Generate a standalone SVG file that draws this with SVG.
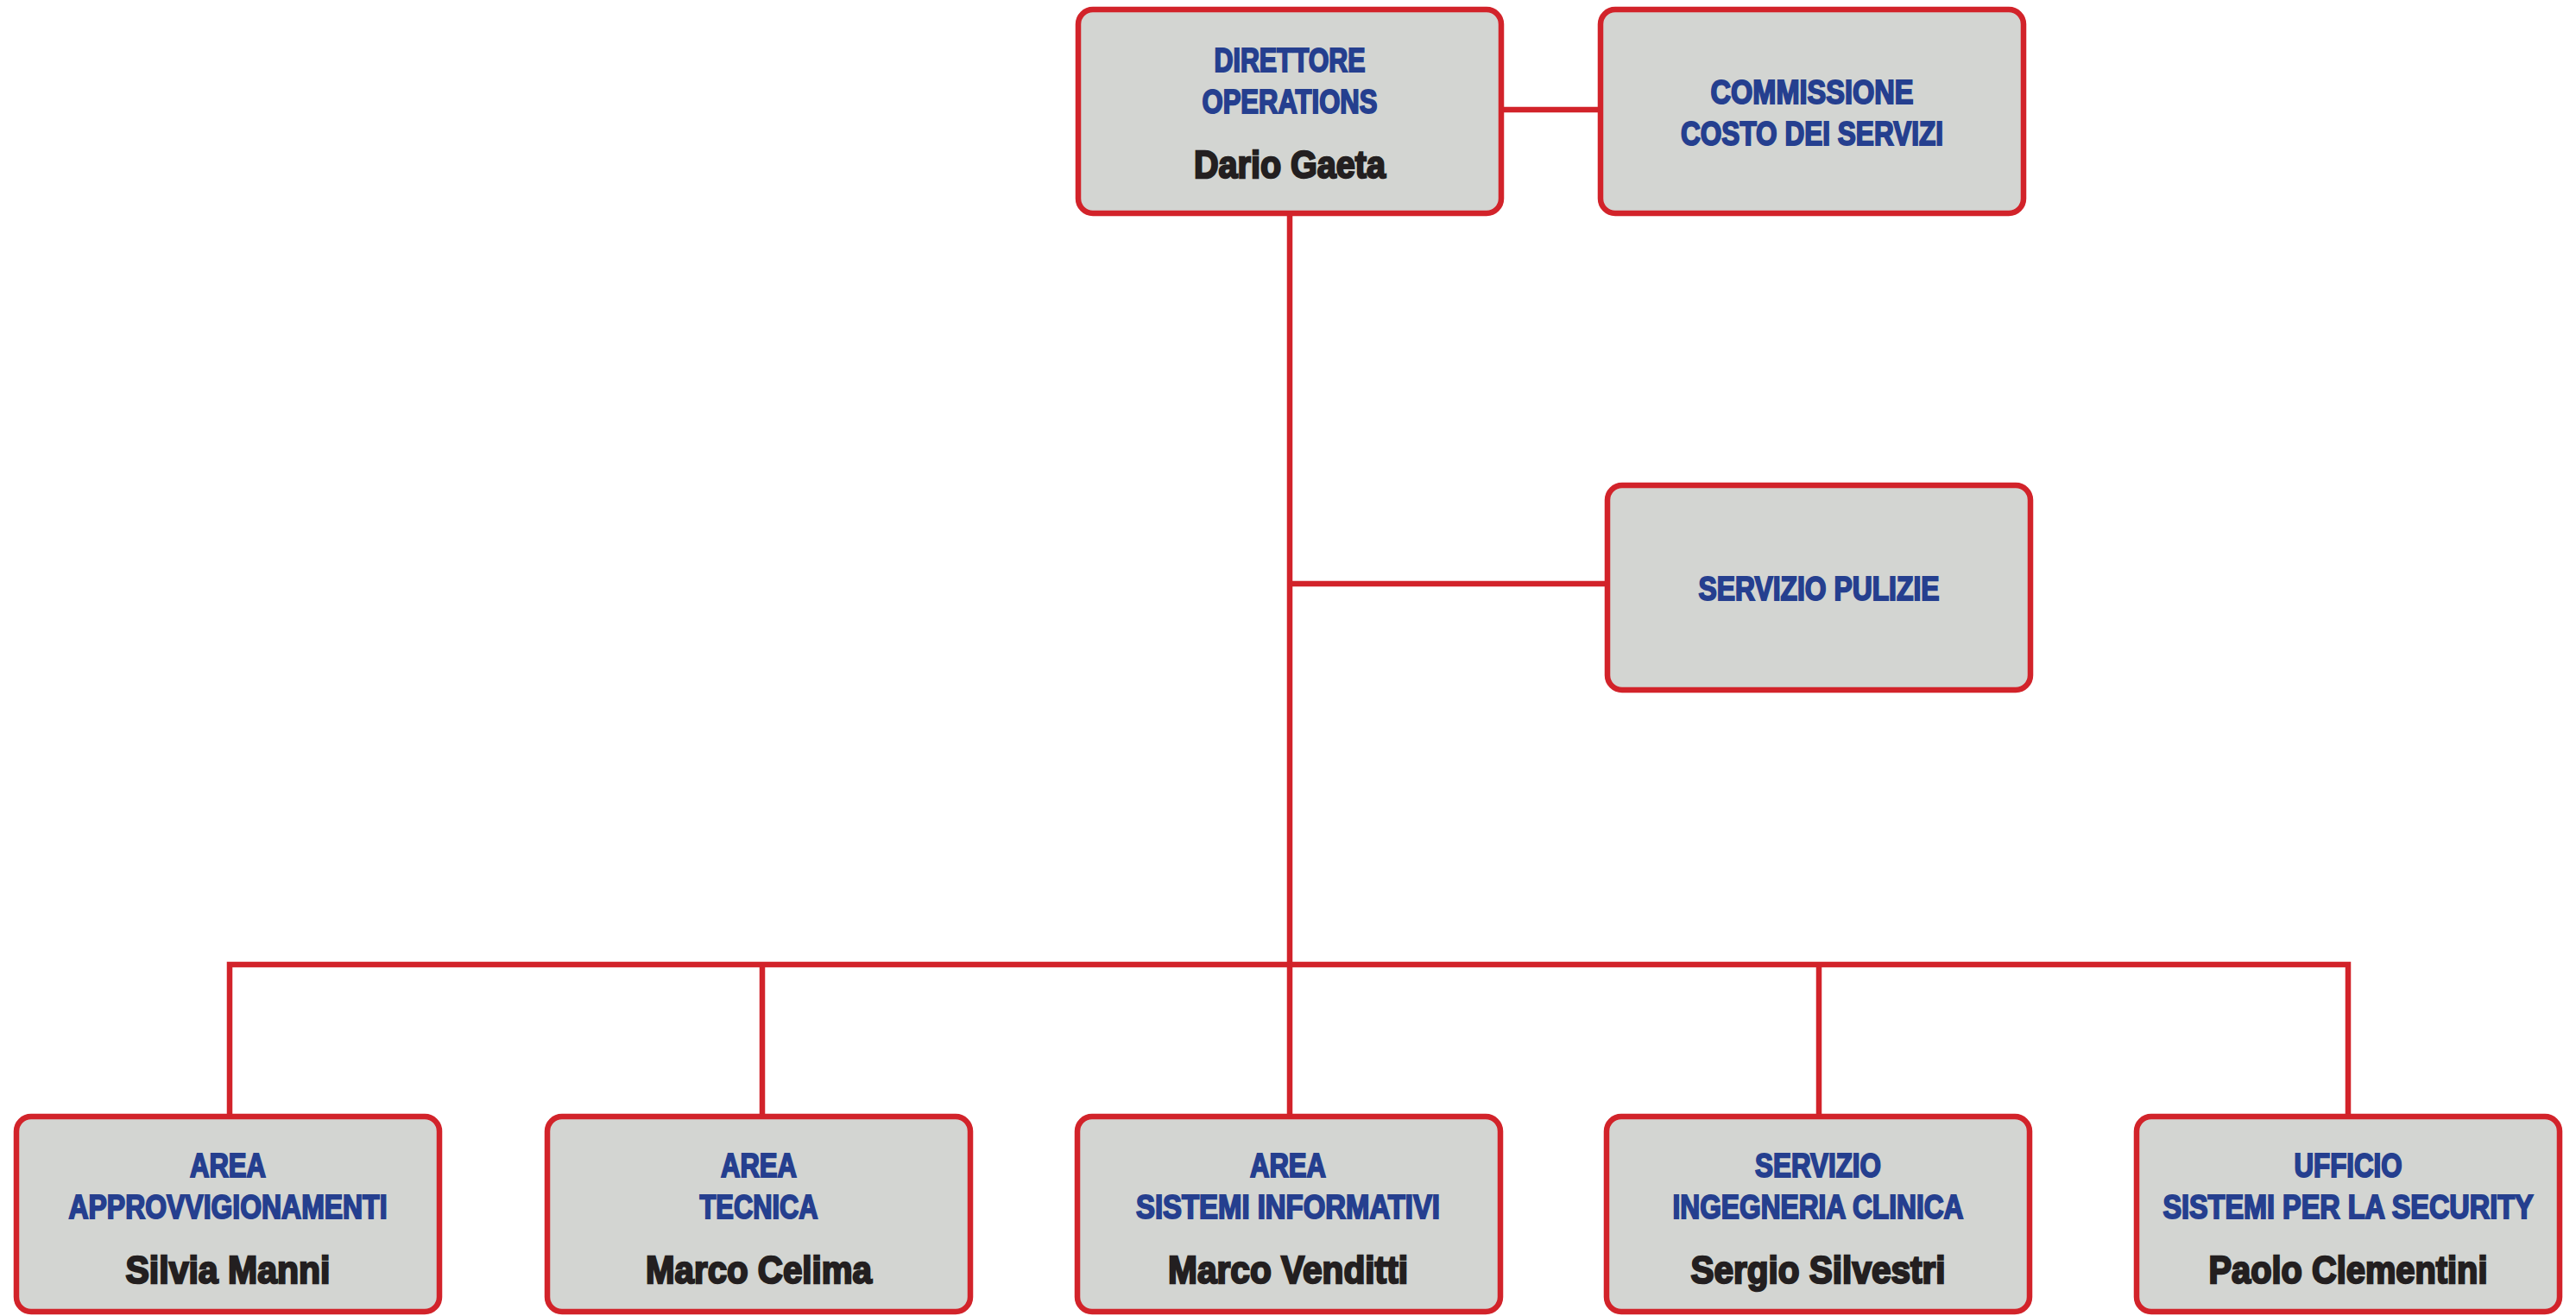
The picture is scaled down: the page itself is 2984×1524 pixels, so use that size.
<svg xmlns="http://www.w3.org/2000/svg" width="2984" height="1524" viewBox="0 0 2984 1524">
<style>
.box{fill:#d3d5d2;stroke:#d2232a;stroke-width:6.5}
.con{fill:none;stroke:#d2232a;stroke-width:6.5;stroke-linejoin:miter}
.t{font-family:"Liberation Sans",Arial,sans-serif;font-weight:bold;text-anchor:middle;fill:#253f8f;stroke:#253f8f;stroke-width:2;font-size:38px}
.n{font-family:"Liberation Sans",Arial,sans-serif;font-weight:bold;text-anchor:middle;fill:#231f20;stroke:#231f20;stroke-width:2.4;font-size:45px}
</style>
<rect width="2984" height="1524" fill="#ffffff"/>
<g id="connectors">
<path class="con" d="M1739,127 H1854"/>
<path class="con" d="M1494,247 V1293"/>
<path class="con" d="M1494,676 H1862"/>
<path class="con" d="M266,1293 V1117 H2720 V1293"/>
<path class="con" d="M883,1117 V1293"/>
<path class="con" d="M2107,1117 V1293"/>
</g>
<g id="direttore">
<rect class="box" x="1249" y="11" width="490" height="236" rx="17"/>
<text class="t" x="1494" y="83" textLength="175" lengthAdjust="spacingAndGlyphs">DIRETTORE</text>
<text class="t" x="1494" y="131" textLength="203" lengthAdjust="spacingAndGlyphs">OPERATIONS</text>
<text class="n" x="1494" y="206" textLength="222" lengthAdjust="spacingAndGlyphs">Dario Gaeta</text>
</g>
<g id="commissione">
<rect class="box" x="1854" y="11" width="490" height="236" rx="17"/>
<text class="t" x="2099" y="120" textLength="235" lengthAdjust="spacingAndGlyphs">COMMISSIONE</text>
<text class="t" x="2099" y="168" textLength="304" lengthAdjust="spacingAndGlyphs">COSTO DEI SERVIZI</text>
</g>
<g id="pulizie">
<rect class="box" x="1862" y="562" width="490" height="237" rx="17"/>
<text class="t" x="2107" y="695" textLength="279" lengthAdjust="spacingAndGlyphs">SERVIZIO PULIZIE</text>
</g>
<g id="approvvigionamenti">
<rect class="box" x="19" y="1293" width="490" height="226" rx="17"/>
<text class="t" x="264" y="1363" textLength="88" lengthAdjust="spacingAndGlyphs">AREA</text>
<text class="t" x="264" y="1411" textLength="369" lengthAdjust="spacingAndGlyphs">APPROVVIGIONAMENTI</text>
<text class="n" x="264" y="1486" textLength="237" lengthAdjust="spacingAndGlyphs">Silvia Manni</text>
</g>
<g id="tecnica">
<rect class="box" x="634" y="1293" width="490" height="226" rx="17"/>
<text class="t" x="879" y="1363" textLength="88" lengthAdjust="spacingAndGlyphs">AREA</text>
<text class="t" x="879" y="1411" textLength="137" lengthAdjust="spacingAndGlyphs">TECNICA</text>
<text class="n" x="879" y="1486" textLength="262" lengthAdjust="spacingAndGlyphs">Marco Celima</text>
</g>
<g id="sistemi-informativi">
<rect class="box" x="1248" y="1293" width="490" height="226" rx="17"/>
<text class="t" x="1492" y="1363" textLength="88" lengthAdjust="spacingAndGlyphs">AREA</text>
<text class="t" x="1492" y="1411" textLength="352" lengthAdjust="spacingAndGlyphs">SISTEMI INFORMATIVI</text>
<text class="n" x="1492" y="1486" textLength="278" lengthAdjust="spacingAndGlyphs">Marco Venditti</text>
</g>
<g id="ingegneria-clinica">
<rect class="box" x="1861" y="1293" width="490" height="226" rx="17"/>
<text class="t" x="2106" y="1363" textLength="146" lengthAdjust="spacingAndGlyphs">SERVIZIO</text>
<text class="t" x="2106" y="1411" textLength="337" lengthAdjust="spacingAndGlyphs">INGEGNERIA CLINICA</text>
<text class="n" x="2106" y="1486" textLength="295" lengthAdjust="spacingAndGlyphs">Sergio Silvestri</text>
</g>
<g id="security">
<rect class="box" x="2475" y="1293" width="490" height="226" rx="17"/>
<text class="t" x="2720" y="1363" textLength="125" lengthAdjust="spacingAndGlyphs">UFFICIO</text>
<text class="t" transform="translate(2720,1411) scale(0.85,1)" x="0" y="0" textLength="505" lengthAdjust="spacingAndGlyphs">SISTEMI PER LA SECURITY</text>
<text class="n" x="2720" y="1486" textLength="323" lengthAdjust="spacingAndGlyphs">Paolo Clementini</text>
</g>
</svg>
